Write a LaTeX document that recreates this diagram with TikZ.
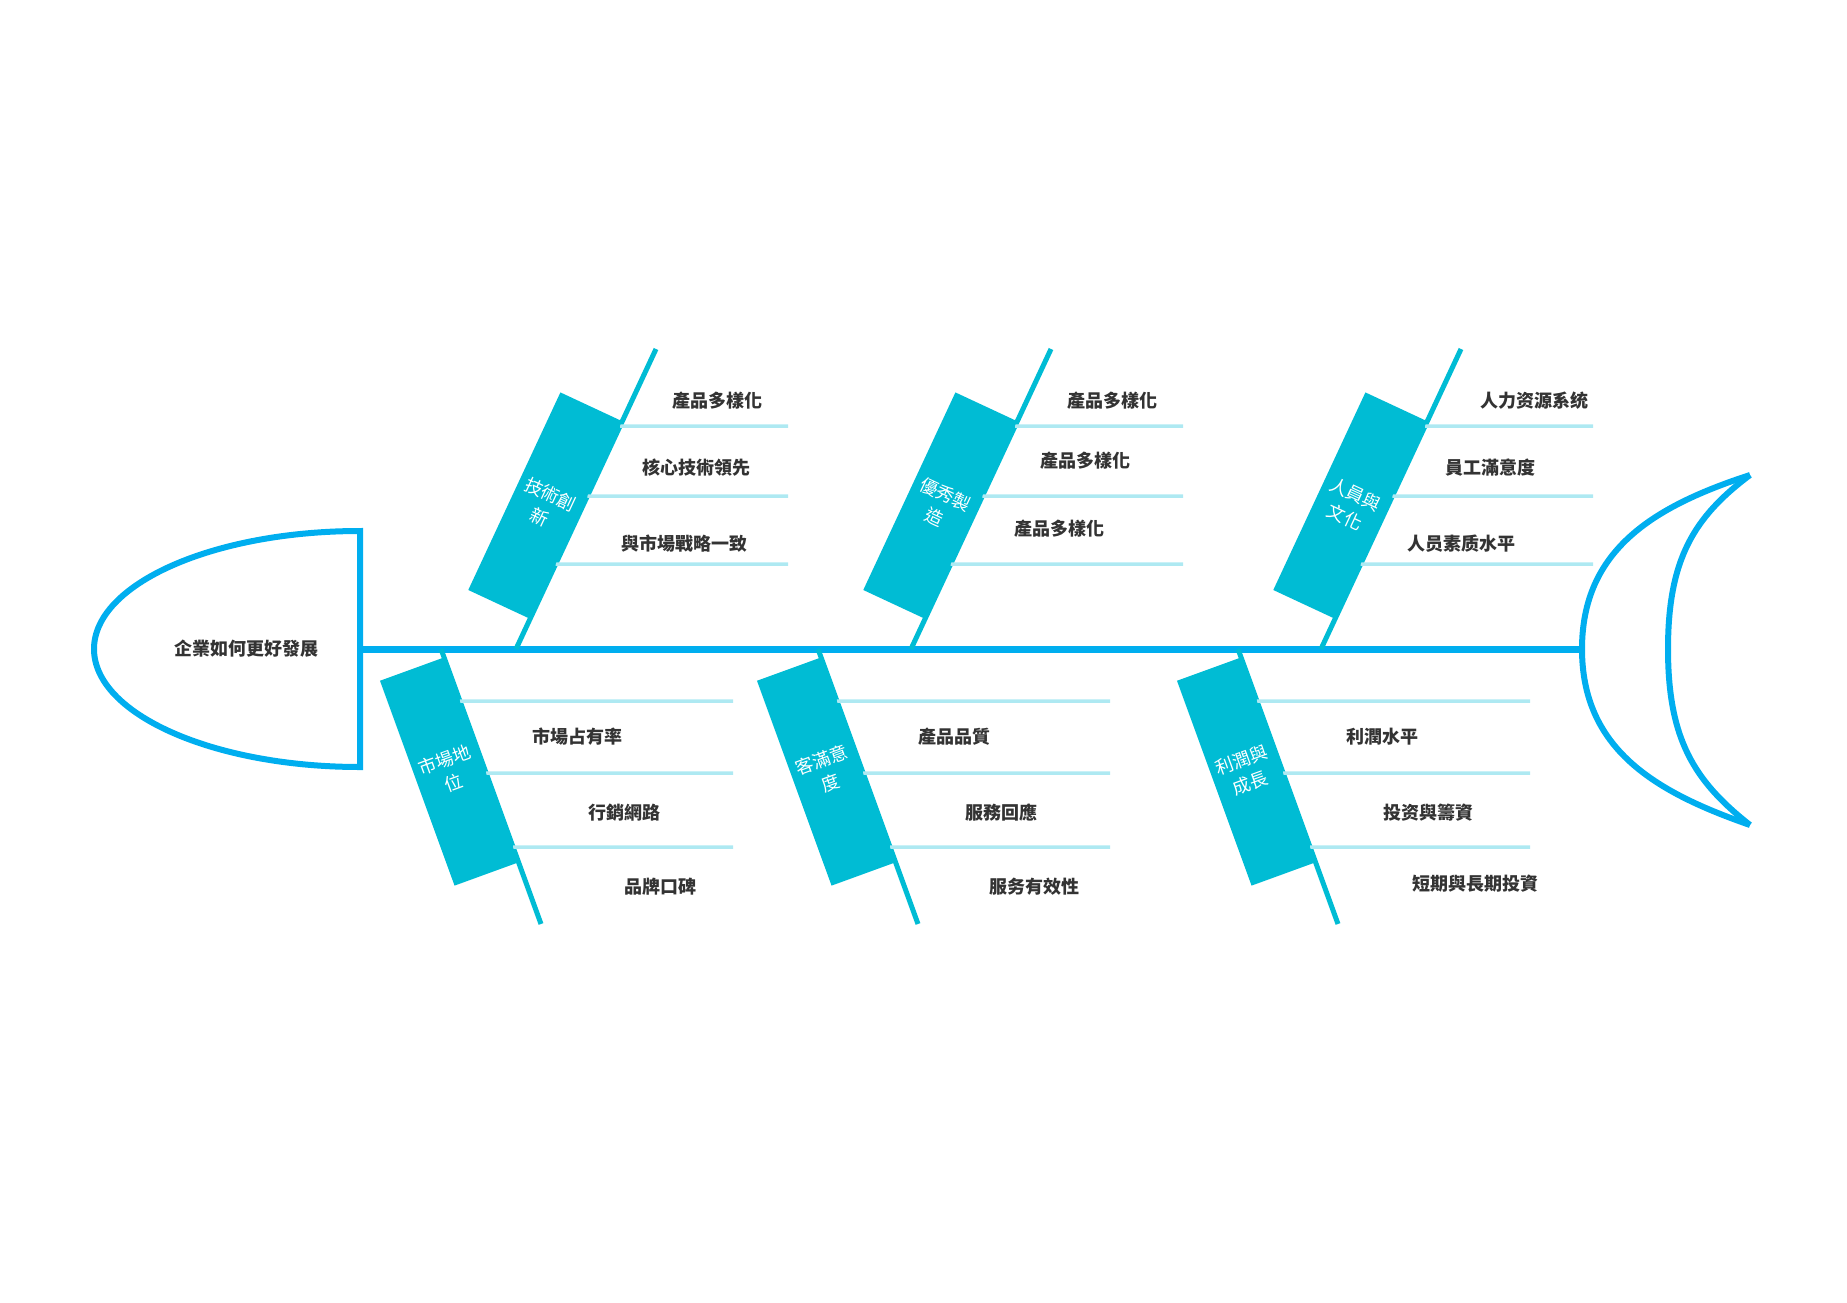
\documentclass[tikz,border=0pt]{standalone}
\usepackage{fontspec}
\newfontfamily\cjk{Noto Sans CJK TC}
\usetikzlibrary{calc}

\definecolor{spineblue}{HTML}{00AEEF}
\definecolor{bonecyan}{HTML}{00BCD4}
\definecolor{subcyan}{HTML}{AEE9F2}
\definecolor{txtgray}{HTML}{333333}

\tikzset{
  fishline/.style={draw=spineblue, line width=6pt},
  spine/.style={draw=spineblue, line width=7pt},
  bone/.style={draw=bonecyan, line width=5pt},
  subline/.style={draw=subcyan, line width=3.5pt},
  catbox/.style={fill=bonecyan, minimum width=68pt, minimum height=218pt, inner sep=0pt,
    text=white, align=center, font=\cjk\fontsize{18}{25}\selectfont},
  cause/.style={text=txtgray, font=\cjk\bfseries\fontsize{18}{22}\selectfont},
}

\begin{document}
\begin{tikzpicture}[x=1pt, y=-1pt]
    \useasboundingbox (0,0) rectangle (1847,1303);

    % head
    \coordinate (hd) at (360,649);
    \draw[fishline] (360,531) .. controls (213,531) and (94,584) .. (94,649)
        .. controls (94,714) and (213,767) .. (360,767) -- cycle;
    \node[cause] (goal) at (246,649) {企業如何更好發展};

    % tail
    \coordinate (tu) at (1750,475);
    \coordinate (td) at (1750,825);
    \coordinate (tl) at (1582,649);
    \coordinate (ti) at (1668,649);
    \draw[fishline] (tu) .. controls (1655,506) and (1582,549) .. (tl)
        .. controls (1582,749) and (1655,792) .. (td);
    \draw[fishline] (tu) .. controls (1694,517) and (1668,559) .. (ti)
        .. controls (1668,739) and (1694,781) .. (td);

    \draw[spine] (hd) -- (tl);

    % bones
    \coordinate (s1) at (516,649);  \coordinate (e1) at (656,349);
    \coordinate (s2) at (911,649);  \coordinate (e2) at (1051,349);
    \coordinate (s3) at (1321,649); \coordinate (e3) at (1461,349);
    \coordinate (s4) at (441,649);  \coordinate (e4) at (541,924);
    \coordinate (s5) at (818,649);  \coordinate (e5) at (918,924);
    \coordinate (s6) at (1238,649); \coordinate (e6) at (1338,924);

    \foreach \b in {1,...,6}{
        \draw[bone] (s\b) -- (e\b);
    }
    \foreach \b in {1,2,3}{
        \foreach \d in {223,153,85}
            \draw[subline] ($(s\b)!{\d/300}!(e\b)$) -- ($(s\b)+(272,-\d)$);
    }
    \foreach \b in {4,5,6}{
        \foreach \d in {52,124,198}
            \draw[subline] ($(s\b)!{\d/275}!(e\b)$) -- ($(s\b)+(292,\d)$);
    }

    \node[catbox, rotate=-25, anchor=south east] (c1) at ($(s1)!0.1!(e1)$) {技術創\\新};
    \node[catbox, rotate=-25, anchor=south east] (c2) at ($(s2)!0.1!(e2)$) {優秀製\\造};
    \node[catbox, rotate=-25, anchor=south east] (c3) at ($(s3)!0.1!(e3)$) {人員與\\文化};
    \node[catbox, rotate=20, anchor=north east] (c4) at ($(s4)!0.03!(e4)$) {市場地\\位};
    \node[catbox, rotate=20, anchor=north east] (c5) at ($(s5)!0.03!(e5)$) {客滿意\\度};
    \node[catbox, rotate=20, anchor=north east] (c6) at ($(s6)!0.03!(e6)$) {利潤與\\成長};

    % causes
    \node[cause] (c1a) at (717,401)  {產品多樣化};
    \node[cause] (c1b) at (696,468)  {核心技術領先};
    \node[cause] (c1c) at (684,544)  {與市場戰略一致};
    \node[cause] (c2a) at (1112,401) {產品多樣化};
    \node[cause] (c2b) at (1085,461) {產品多樣化};
    \node[cause] (c2c) at (1059,529) {產品多樣化};
    \node[cause] (c3a) at (1534,401) {人力资源系统};
    \node[cause] (c3b) at (1490,468) {員工滿意度};
    \node[cause] (c3c) at (1461,544) {人员素质水平};
    \node[cause] (c4a) at (577,737)  {市場占有率};
    \node[cause] (c4b) at (624,813)  {行銷網路};
    \node[cause] (c4c) at (660,887)  {品牌口碑};
    \node[cause] (c5a) at (954,737)  {產品品質};
    \node[cause] (c5b) at (1001,813) {服務回應};
    \node[cause] (c5c) at (1034,887) {服务有效性};
    \node[cause] (c6a) at (1382,737) {利潤水平};
    \node[cause] (c6b) at (1428,813) {投资與籌資};
    \node[cause] (c6c) at (1475,884) {短期與長期投資};
\end{tikzpicture}
\end{document}
